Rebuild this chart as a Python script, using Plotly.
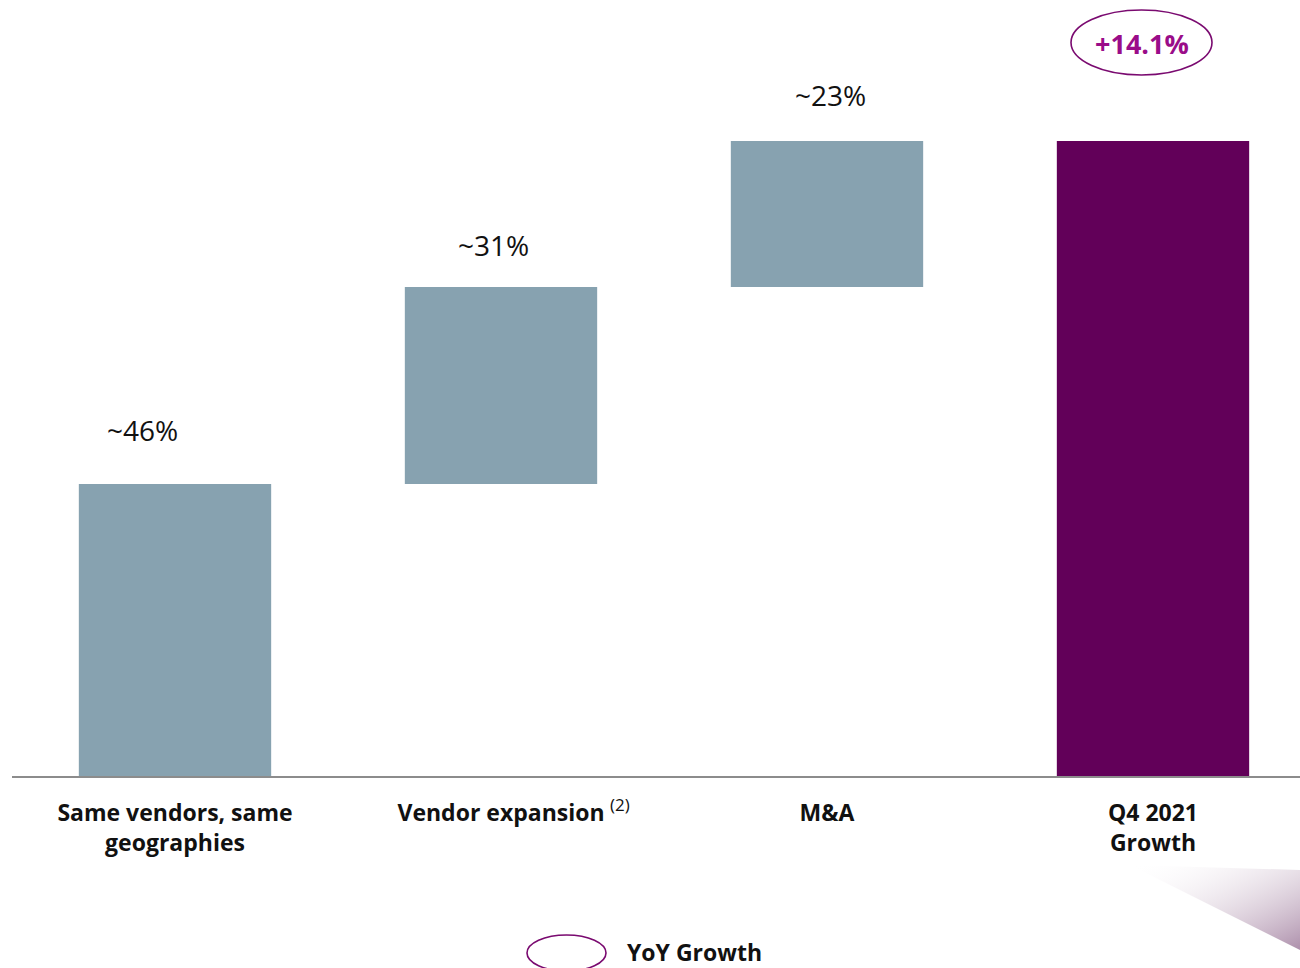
import base64
import plotly.graph_objects as go

# Contribution to Q4 2021 growth, by driver
categories = ["Same vendors, same geographies", "Vendor expansion", "M&A", "Q4 2021 Growth"]
tick_labels = [
    "<b>Same vendors, same<br>geographies</b>",
    "<b>Vendor expansion</b>",
    "<b>M&A</b>",
    "<b>Q4 2021<br>Growth</b>",
]
footnote_ref = "(2)"
shares = [46, 31, 23, 100]
measures = ["relative", "relative", "relative", "total"]
share_labels = ["~46%", "~31%", "~23%"]
yoy_growth = "+14.1%"

W, H = 1300, 968
M_L, M_R, M_T, M_B = 12, 0, 0, 192
PW, PH = W - M_L - M_R, H - M_T - M_B

GREY = "#87A2B0"
PURPLE = "#620059"
MAGENTA = "#9A0C89"
RING = "#7A0A70"
FONT = "Open Sans"

x_pos = list(range(len(categories)))

fig = go.Figure()
fig.add_trace(go.Waterfall(
    x=x_pos,
    y=shares,
    measure=measures,
    width=0.59,
    increasing=dict(marker=dict(color=GREY)),
    decreasing=dict(marker=dict(color=GREY)),
    totals=dict(marker=dict(color=PURPLE)),
    connector=dict(visible=False),
    hoverinfo="skip",
))


def px_to_paper(px, py):
    return (px - M_L) / PW, (H - M_B - py) / PH


# Share labels above each step of the waterfall
running = 0
label_dx = [-33, -8, 3]
label_dy = [33, 21, 25]
for i, (v, lab) in enumerate(zip(shares[:3], share_labels)):
    running += v
    fig.add_annotation(
        x=x_pos[i], y=running, text=lab, showarrow=False,
        xshift=label_dx[i], yshift=label_dy[i], yanchor="bottom", xanchor="center",
        font=dict(family=FONT, size=28, color="#111111"),
    )

# Footnote marker beside the "Vendor expansion" category label
_, fy = px_to_paper(0, 804)
fig.add_annotation(x=x_pos[1], y=fy, yref="paper", text=footnote_ref, showarrow=False,
                   xanchor="left", yanchor="middle", xshift=107,
                   font=dict(family=FONT, size=17, color="#111111"))

# YoY growth call-out above the total bar
x0, y0 = px_to_paper(1071, 75)
x1, y1 = px_to_paper(1212, 10)
fig.add_shape(type="circle", xref="paper", yref="paper", x0=x0, x1=x1, y0=y0, y1=y1,
              line=dict(color=RING, width=1.6), fillcolor="rgba(0,0,0,0)")
cx, cy = px_to_paper(1142, 43)
fig.add_annotation(xref="paper", yref="paper", x=cx, y=cy, text="<b>" + yoy_growth + "</b>",
                   xanchor="center", yanchor="middle",
                   showarrow=False, font=dict(family=FONT, size=27, color=MAGENTA))

# Legend: ring marker with caption
x0, y0 = px_to_paper(527, 971)
x1, y1 = px_to_paper(606, 935)
fig.add_shape(type="circle", xref="paper", yref="paper", x0=x0, x1=x1, y0=y0, y1=y1,
              line=dict(color=RING, width=1.6), fillcolor="rgba(0,0,0,0)")
lx, ly = px_to_paper(625, 952)
fig.add_annotation(xref="paper", yref="paper", x=lx, y=ly, text="<b>YoY Growth</b>",
                   xanchor="left", yanchor="middle", showarrow=False,
                   font=dict(family=FONT, size=23, color="#111111"))

# Decorative gradient wedge in the lower-right corner
svg = (
    '<svg xmlns="http://www.w3.org/2000/svg" width="170" height="85" viewBox="0 0 170 85">'
    '<defs><linearGradient id="g" x1="0" y1="0" x2="1" y2="1">'
    '<stop offset="0" stop-color="#ffffff" stop-opacity="0"/>'
    '<stop offset="1" stop-color="#ad8fab" stop-opacity="1"/>'
    '</linearGradient></defs>'
    '<polygon points="0,0 170,5 170,85" fill="url(#g)"/></svg>'
)
uri = "data:image/svg+xml;base64," + base64.b64encode(svg.encode()).decode()
ix, iy = px_to_paper(1130, 865)
fig.add_layout_image(dict(source=uri, xref="paper", yref="paper", x=ix, y=iy,
                          sizex=170 / PW, sizey=85 / PH, xanchor="left", yanchor="top",
                          sizing="stretch", layer="below"))

fig.update_layout(
    width=W, height=H,
    margin=dict(l=M_L, r=M_R, t=M_T, b=M_B),
    paper_bgcolor="white", plot_bgcolor="white",
    showlegend=False,
    xaxis=dict(
        range=[-0.5, -0.5 + PW / 326],
        tickvals=x_pos, ticktext=tick_labels,
        tickfont=dict(family=FONT, size=23, color="#111111"),
        showgrid=False, zeroline=False,
        showline=True, linecolor="#8c8c8c", linewidth=2,
        ticks="outside", ticklen=15, tickcolor="rgba(0,0,0,0)",
        fixedrange=True,
    ),
    yaxis=dict(
        range=[0, PH / 6.35],
        visible=False, showgrid=False, zeroline=False, fixedrange=True,
    ),
)

fig.write_html("out.html")
